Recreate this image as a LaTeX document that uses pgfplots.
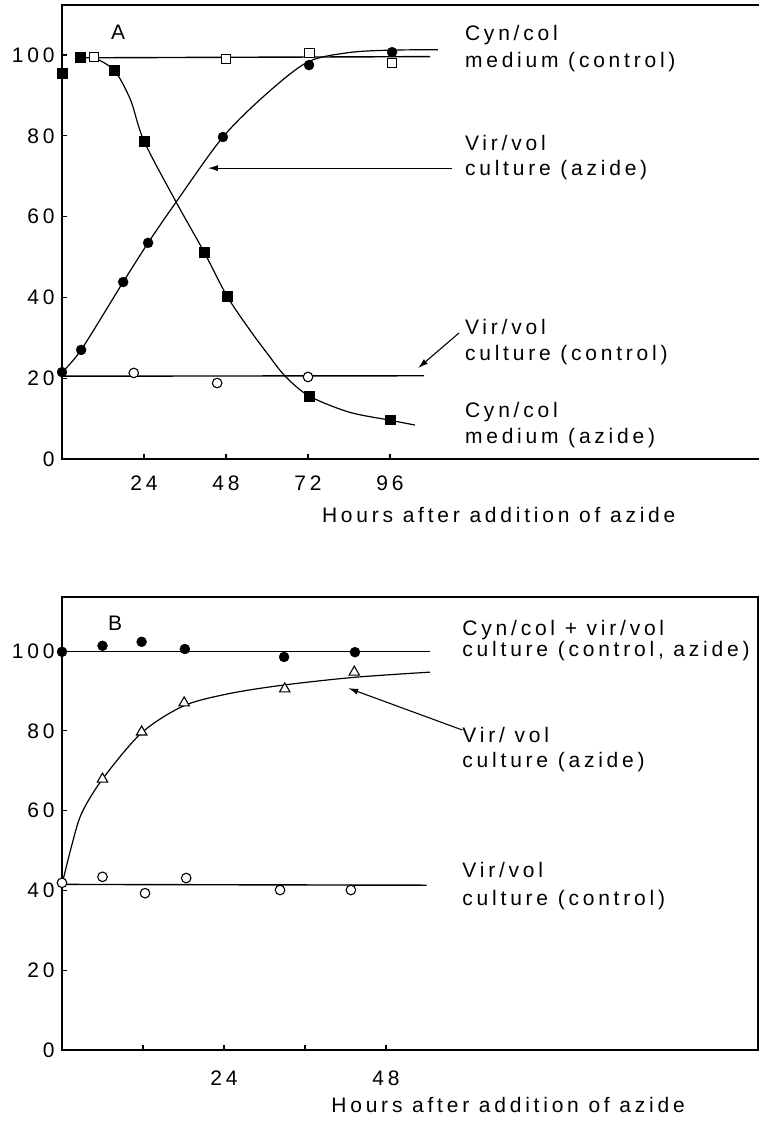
\documentclass[border=0pt]{standalone}
\usepackage{fontspec}
\setmainfont{Liberation Sans}[LetterSpace=18]
\usepackage{pgfplots}
\pgfplotsset{compat=1.18}
\usetikzlibrary{arrows.meta}
\newcommand{\lf}{\fontsize{21}{24}\selectfont}
\tikzset{txt/.style={anchor=west, font=\lf, inner sep=0pt}}
\pgfplotsset{
  myax/.style={
    axis line style={line width=1.4pt},
    tick align=inside, tick pos=left,
    major tick length=5pt,
    every tick/.style={line width=1.1pt, black},
    tick label style={font=\lf},
    /pgf/number format/assume math mode=true,
    yticklabel style={xshift=-4pt},
    clip=false,
    ymin=0, xmin=0,
    ytick={0,20,40,60,80,100},
    label style={font=\lf},
  },
  fsq/.style={only marks, mark=square*, mark size=4.8pt, mark options={fill=black, draw=black}},
  osq/.style={only marks, mark=square*, mark size=4.8pt, mark options={fill=white, draw=black, line width=1.1pt}},
  fci/.style={only marks, mark=*, mark size=5pt, mark options={fill=black, draw=black}},
  oci/.style={only marks, mark=*, mark size=4.8pt, mark options={fill=white, draw=black, line width=1.1pt}},
  otr/.style={only marks, mark=triangle*, mark size=6pt, mark options={fill=white, draw=black, line width=1.1pt}},
  crv/.style={smooth, no markers, line width=1.2pt, black},
  hln/.style={no markers, line width=1.4pt, black},
}
\begin{document}
\begin{tikzpicture}
\path[use as bounding box] (0,0) rectangle (759pt,1128pt);
% ---------------- Panel A ----------------
\begin{axis}[myax,
  at={(62pt,669pt)}, anchor=south west,
  x=3.417pt, y=4.04pt,
  xmax=204.5, ymax=112.4,
  xtick={24,48,72,96},
  xticklabel style={yshift=-13pt},
  xlabel={Hours after addition of azide},
  xlabel style={at={(axis description cs:0.625,0)}, anchor=center, yshift=-56pt},
]
% fitted curves
\addplot[crv] coordinates {(9,99.5)(15.2,96.3)(20,89)(24,78.7)(33.4,63.6)(41.6,51.2)(48.3,40.3)(55,31.9)(60,26.2)(65.3,20.5)(72.3,15.6)(84,11.6)(96,9.6)(103.3,8.4)};
\addplot[crv] coordinates {(0,21.5)(5.6,27)(17.9,43.8)(25.2,53.5)(33.4,63.6)(47.1,79.7)(60,90.5)(72,98.3)(84,100.6)(96,101.2)(110,101.3)};
\addplot[hln] coordinates {(5,99.3)(107.7,99.6)};
\addplot[hln] coordinates {(0,20.5)(106,20.6)};
% data
\addplot[oci] coordinates {(21,21.3)(45.4,18.8)(72,20.3)};
\addplot[fci] coordinates {(0,21.5)(5.6,27)(17.9,43.8)(25.2,53.5)(47.1,79.7)(72.3,97.5)(96.6,100.7)};
\addplot[osq] coordinates {(9.4,99.5)(48,99.0)(72.4,100.5)(96.6,98.0)};
\addplot[fsq] coordinates {(0,95.5)(5.3,99.5)(15.2,96.3)(24,78.7)(41.6,51.2)(48.3,40.3)(72.3,15.6)(96,9.7)};
% annotations
\node[txt] at (axis cs:14.3,105.7) {A};
\node[txt] at (axis cs:117.9,104.9) {Cyn/col};
\node[txt] at (axis cs:117.9,98.3) {medium (control)};
\node[txt] at (axis cs:117.9,78.2) {Vir/vol};
\node[txt] at (axis cs:117.9,71.5) {culture (azide)};
\node[txt] at (axis cs:117.9,32.7) {Vir/vol};
\node[txt] at (axis cs:117.9,25.7) {culture (control)};
\node[txt] at (axis cs:117.9,11.6) {Cyn/col};
\node[txt] at (axis cs:117.9,5.2) {medium (azide)};
\draw[line width=1.1pt, -{Latex[length=10pt,width=6pt]}] (axis cs:114.1,72.0) -- (axis cs:42.7,72.0);
\draw[line width=1.1pt, -{Latex[length=10pt,width=6pt]}] (axis cs:116.2,31.2) -- (axis cs:104.2,22.5);
\end{axis}
% ---------------- Panel B ----------------
\begin{axis}[myax,
  at={(62pt,78pt)}, anchor=south west,
  x=6.75pt, y=3.99pt,
  xmax=103.1, ymax=113.5,
  xtick={12,24,36,48}, xticklabels={,24,,48},
  xticklabel style={yshift=-17pt},
  xlabel={Hours after addition of azide},
  xlabel style={at={(axis description cs:0.641,0)}, anchor=center, yshift=-55pt},
]
\addplot[crv] coordinates {(0,41.5)(1.4,51)(2.9,59.3)(6,67.9)(11.8,79.5)(18.1,86.3)(25,89.4)(33,91.5)(43.3,93.4)(54.5,94.7)};
\addplot[hln] coordinates {(0,99.8)(54.5,99.8)};
\addplot[hln] coordinates {(0,41.5)(54,41.3)};
\addplot[fci] coordinates {(0,99.8)(6,101.3)(11.8,102.3)(18.2,100.5)(32.9,98.5)(43.4,99.7)};
\addplot[otr] coordinates {(6,67.9)(11.8,79.7)(18.1,87)(33,90.5)(43.3,94.7)};
\addplot[oci] coordinates {(0,41.9)(6,43.4)(12.3,39.3)(18.4,43.1)(32.3,40.1)(42.8,40.1)};
\node[txt] at (axis cs:6.8,107) {B};
\node[txt] at (axis cs:59.3,105.3) {Cyn/col + vir/vol};
\node[txt] at (axis cs:59.3,100) {culture (control, azide)};
\node[txt] at (axis cs:59.3,78.9) {Vir/ vol};
\node[txt] at (axis cs:59.3,72.2) {culture (azide)};
\node[txt] at (axis cs:59.3,45.2) {Vir/vol};
\node[txt] at (axis cs:59.3,37.6) {culture (control)};
\draw[line width=1.1pt, -{Latex[length=10pt,width=6pt]}] (axis cs:59.3,80.2) -- (axis cs:42.4,90.7);
\end{axis}
\end{tikzpicture}
\end{document}
